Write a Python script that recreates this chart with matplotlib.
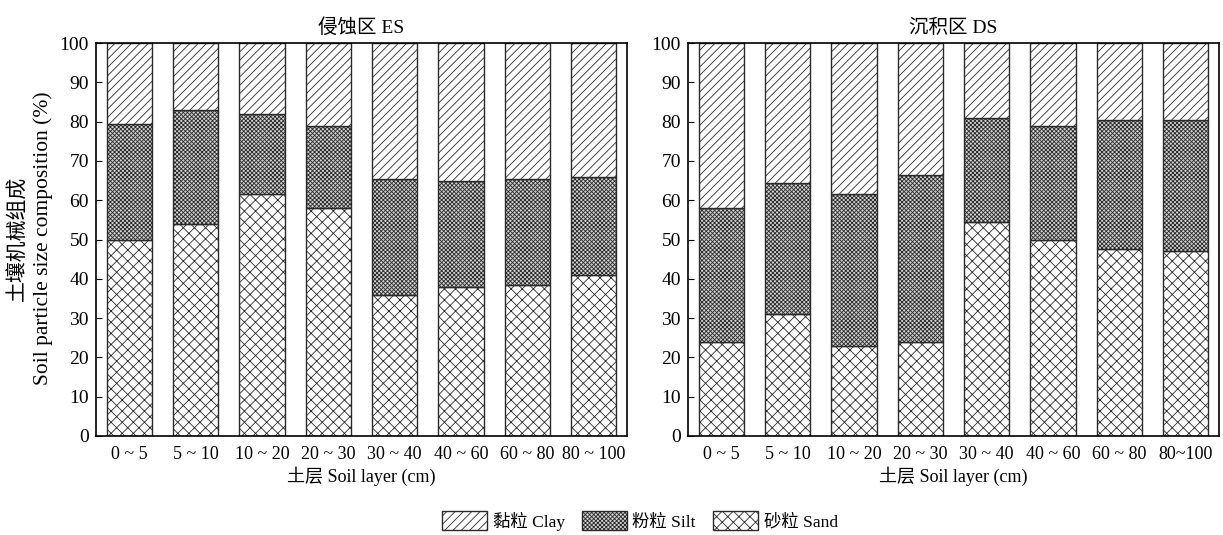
import numpy as np
import matplotlib
matplotlib.use("Agg")
import matplotlib.pyplot as plt
from matplotlib.patches import Patch

plt.rcParams['font.family'] = ['Liberation Serif', 'Noto Sans CJK SC']
plt.rcParams['hatch.linewidth'] = 0.6
plt.rcParams['font.size'] = 12

layers_es = ["0 ~ 5", "5 ~ 10", "10 ~ 20", "20 ~ 30", "30 ~ 40", "40 ~ 60", "60 ~ 80", "80 ~ 100"]
layers_ds = ["0 ~ 5", "5 ~ 10", "10 ~ 20", "20 ~ 30", "30 ~ 40", "40 ~ 60", "60 ~ 80", "80~100"]

# percentages per layer (sand + silt + clay = 100)
es_sand = np.array([50.0, 54.0, 61.5, 58.0, 36.0, 38.0, 38.5, 41.0])
es_silt = np.array([29.5, 29.0, 20.5, 21.0, 29.5, 27.0, 27.0, 25.0])
es_clay = 100 - es_sand - es_silt

ds_sand = np.array([24.0, 31.0, 23.0, 24.0, 54.5, 50.0, 47.5, 47.0])
ds_silt = np.array([34.0, 33.5, 38.5, 42.5, 26.5, 29.0, 33.0, 33.5])
ds_clay = 100 - ds_sand - ds_silt

EDGE = "#2a2a2a"
WIDTH = 0.68
SAND_HATCH = "xxx"
SILT_HATCH = "xxxxxxxx"
CLAY_HATCH = "////"
SILT_FACE = "#d0d0d0"


def draw_panel(ax, labels, sand, silt, clay, title):
    x = np.arange(len(labels))
    ax.bar(x, sand, WIDTH, color="white", edgecolor=EDGE, hatch=SAND_HATCH, linewidth=1.0)
    ax.bar(x, silt, WIDTH, bottom=sand, color=SILT_FACE, edgecolor=EDGE, hatch=SILT_HATCH, linewidth=1.0)
    ax.bar(x, clay, WIDTH, bottom=sand + silt, color="white", edgecolor=EDGE, hatch=CLAY_HATCH, linewidth=1.0)
    ax.set_xlim(-0.5, len(labels) - 0.5)
    ax.set_ylim(0, 100)
    ax.set_yticks(np.arange(0, 101, 10))
    ax.set_xticks(x)
    ax.set_xticklabels(labels, fontsize=13)
    ax.tick_params(axis="y", direction="in", length=4, labelsize=14, pad=5)
    ax.tick_params(axis="x", length=0, pad=7)
    ax.set_xlabel("土层 Soil layer (cm)", fontsize=13, labelpad=3)
    ax.set_title(title, fontsize=14, pad=7)
    for s in ax.spines.values():
        s.set_linewidth(1.2)


fig = plt.figure(figsize=(12.23, 5.35), dpi=100)
ax1 = fig.add_axes([96 / 1223, 99 / 535, 531 / 1223, 393 / 535])
ax2 = fig.add_axes([688 / 1223, 99 / 535, 531 / 1223, 393 / 535])

draw_panel(ax1, layers_es, es_sand, es_silt, es_clay, "侵蚀区 ES")
draw_panel(ax2, layers_ds, ds_sand, ds_silt, ds_clay, "沉积区 DS")

fig.text(19 / 1223, 1 - 238 / 535, "土壤机械组成", rotation=90, ha="center", va="center", fontsize=15)
fig.text(43 / 1223, 1 - 238 / 535, "Soil particle size composition (%)", rotation=90,
         ha="center", va="center", fontsize=15.5)

handles = [
    Patch(facecolor="white", edgecolor=EDGE, hatch=CLAY_HATCH, linewidth=1.0, label="黏粒 Clay"),
    Patch(facecolor=SILT_FACE, edgecolor=EDGE, hatch=SILT_HATCH, linewidth=1.0, label="粉粒 Silt"),
    Patch(facecolor="white", edgecolor=EDGE, hatch=SAND_HATCH, linewidth=1.0, label="砂粒 Sand"),
]
fig.legend(handles=handles, loc="center", bbox_to_anchor=(640 / 1223, 1 - 521 / 535), ncol=3,
           frameon=False, fontsize=12.5, handlelength=2.6, handleheight=1.3,
           handletextpad=0.3, columnspacing=1.0)

fig.savefig("out.png", dpi=100)
